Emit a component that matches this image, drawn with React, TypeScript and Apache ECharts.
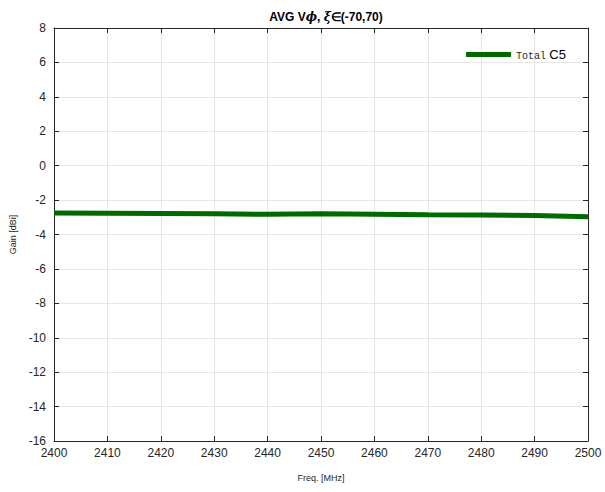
import React, { useEffect, useRef } from "react";
import * as echarts from "echarts";

const freqs = [2400, 2410, 2420, 2430, 2440, 2450, 2460, 2470, 2480, 2490, 2500];
const gainC5 = [-2.75, -2.76, -2.78, -2.8, -2.83, -2.8, -2.82, -2.85, -2.87, -2.89, -2.97];
const seriesName = "Total C5";

export default function App() {
  const ref = useRef<HTMLDivElement>(null);
  useEffect(() => {
    const chart = echarts.init(ref.current!, null, { renderer: "svg" });
    const font = "'Liberation Sans', Arial, sans-serif";
    const axisCommon = {
      axisLine: { show: true, onZero: false, lineStyle: { color: "#262626", width: 1 } },
      axisTick: { show: true, inside: true, length: 5, lineStyle: { color: "#262626" } },
    };
    chart.setOption({
      animation: false,
      backgroundColor: "#ffffff",
      textStyle: { fontFamily: font },
      title: {
        text: "{n|AVG V}{i|ϕ}{n|, }{i|ξ}{n|∈(-70,70)}",
        left: 321,
        textAlign: "center",
        top: 6,
        textStyle: {
          rich: {
            n: { fontFamily: font, fontWeight: "bold", fontSize: 12, color: "#000" },
            i: { fontFamily: "'DejaVu Serif', serif", fontStyle: "italic", fontSize: 12, color: "#000" },
          },
        },
      },
      legend: {
        right: 34,
        top: 43,
        itemWidth: 45,
        itemHeight: 5,
        itemGap: 0,
        icon: "rect",
        formatter: () => "{a|Total} {b|C5}",
        textStyle: {
          rich: {
            a: { fontFamily: "'Liberation Mono', 'DejaVu Sans Mono', monospace", fontSize: 10, color: "#262626", padding: [4, 0, 0, 0] },
            b: { fontFamily: font, fontSize: 13, color: "#000" },
          },
        },
        data: [seriesName],
      },
      grid: { left: 54, right: 17, top: 28, bottom: 51, containLabel: false },
      xAxis: [
        {
          type: "value",
          min: 2400,
          max: 2500,
          interval: 10,
          ...axisCommon,
          axisLabel: { color: "#262626", fontSize: 12, margin: 6, fontFamily: font, formatter: (v: number) => String(v) },
          splitLine: { show: true, lineStyle: { color: "#e6e6e6", width: 1 } },
          name: "Freq. [MHz]",
          nameLocation: "middle",
          nameGap: 32,
          nameTextStyle: { color: "#262626", fontSize: 9, fontFamily: font },
        },
        {
          type: "value",
          position: "top",
          min: 2400,
          max: 2500,
          interval: 10,
          ...axisCommon,
          axisLabel: { show: false },
          splitLine: { show: false },
        },
      ],
      yAxis: [
        {
          type: "value",
          min: -16,
          max: 8,
          interval: 2,
          ...axisCommon,
          axisLabel: { color: "#262626", fontSize: 12, margin: 8, fontFamily: font },
          splitLine: { show: true, lineStyle: { color: "#e6e6e6", width: 1 } },
          name: "Gain [dBi]",
          nameLocation: "middle",
          nameGap: 34,
          nameTextStyle: { color: "#262626", fontSize: 9, fontFamily: font },
        },
        {
          type: "value",
          position: "right",
          min: -16,
          max: 8,
          interval: 2,
          ...axisCommon,
          axisLabel: { show: false },
          splitLine: { show: false },
        },
      ],
      series: [
        {
          name: seriesName,
          type: "line",
          data: freqs.map((f, i) => [f, gainC5[i]]),
          showSymbol: false,
          symbol: "none",
          lineStyle: { color: "#006a00", width: 5 },
          itemStyle: { color: "#006a00" },
        },
      ],
    });
    return () => chart.dispose();
  }, []);
  return <div ref={ref} style={{ width: 605, height: 492, position: "absolute", left: 0, top: 0 }} />;
}
